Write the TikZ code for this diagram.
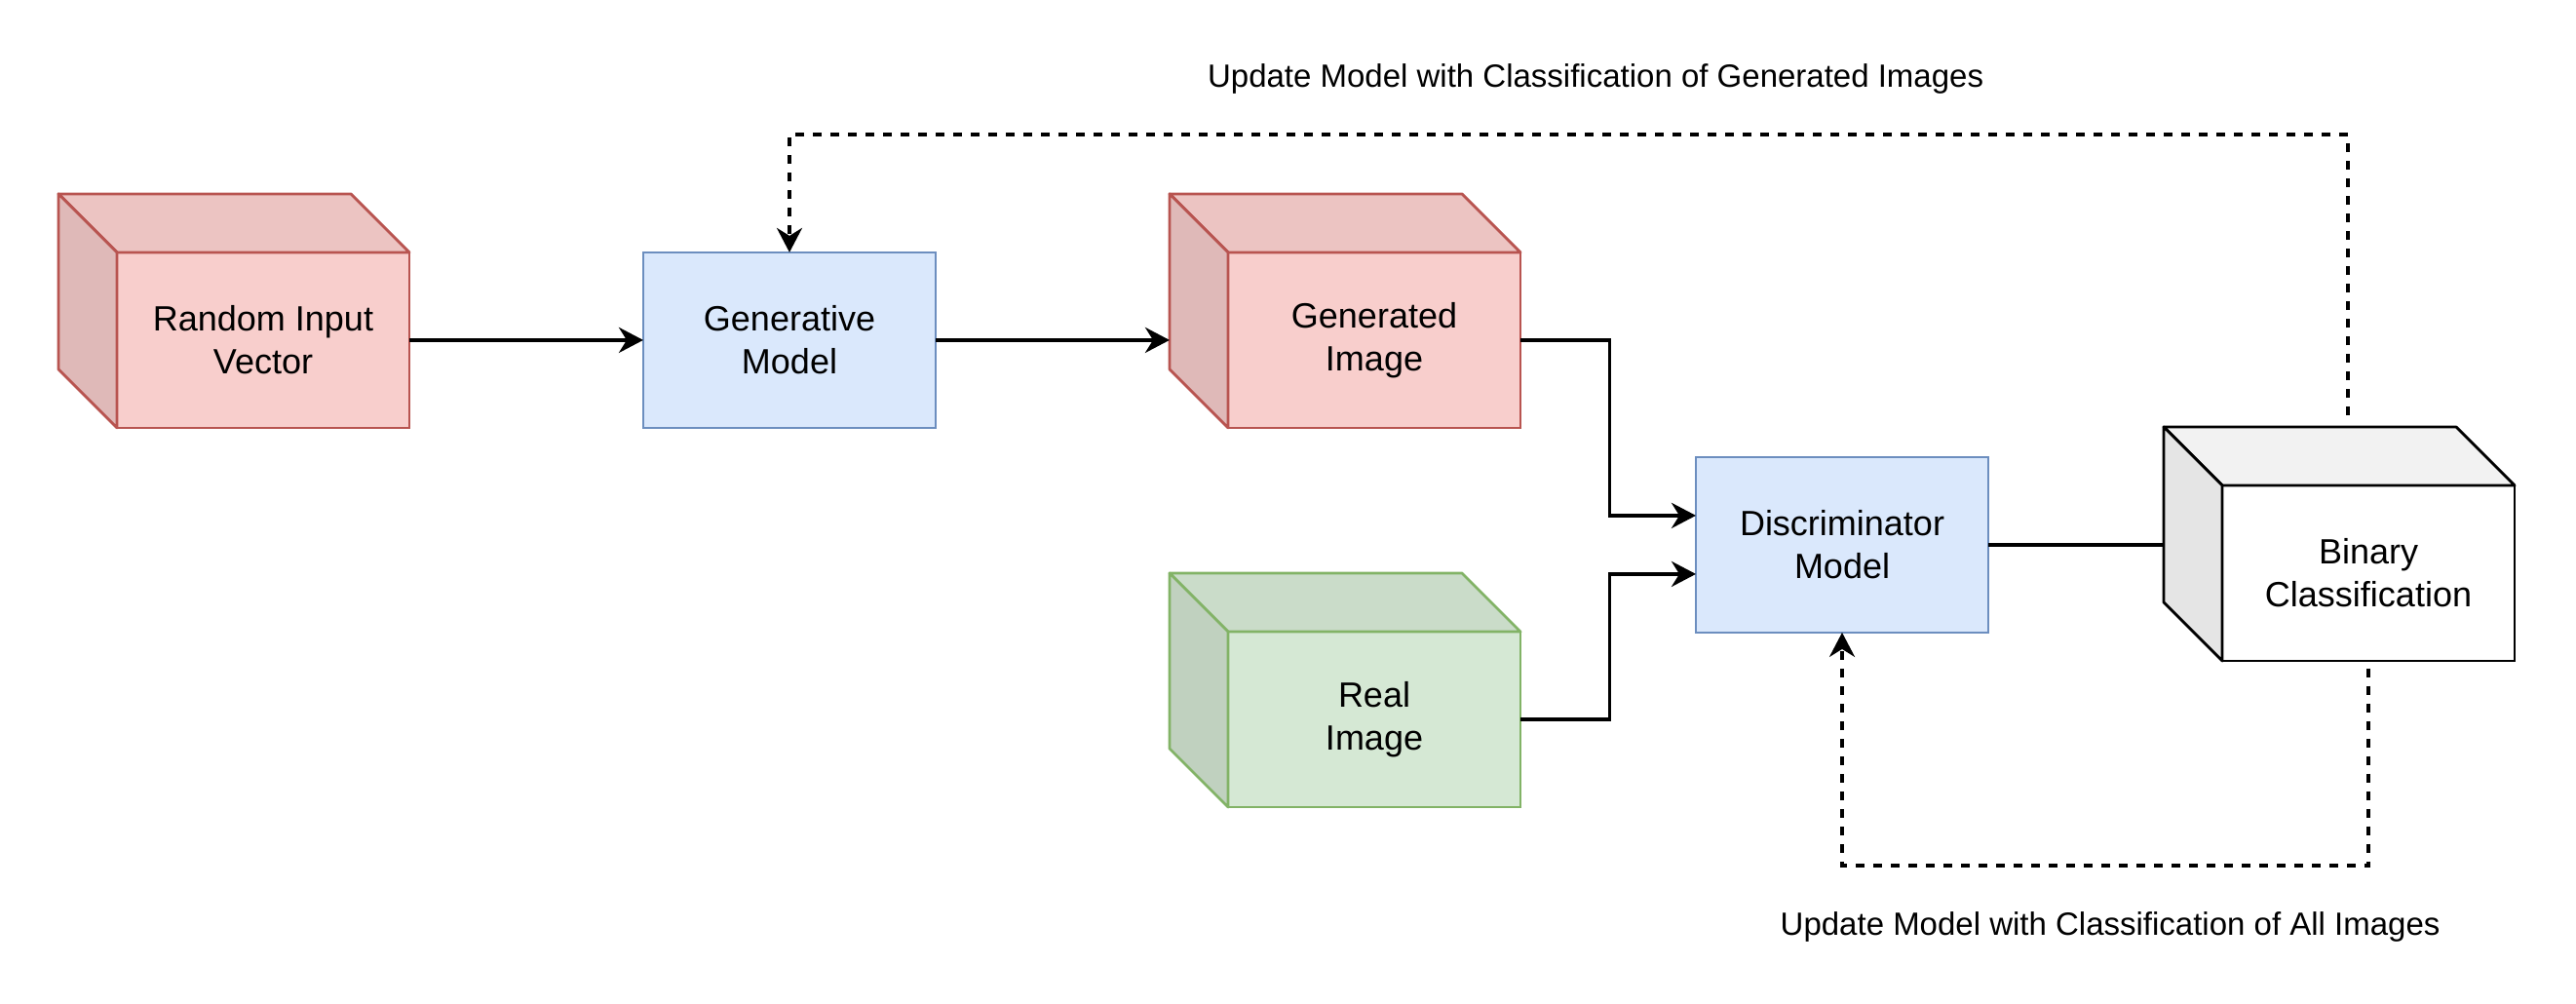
\documentclass[tikz,border=0pt]{standalone}
\usepackage{fontspec}
\setmainfont{Liberation Sans}
\usetikzlibrary{arrows.meta,calc}
\definecolor{redfill}{HTML}{F8CECC}
\definecolor{redline}{HTML}{B85450}
\definecolor{greenfill}{HTML}{D5E8D4}
\definecolor{greenline}{HTML}{82B366}
\definecolor{bluefill}{HTML}{DAE8FC}
\definecolor{blueline}{HTML}{6C8EBF}
\newcommand\cubefaces[3]{%
  \draw[line width=1.4pt,draw=#3,fill=#2!95!black,line join=round]
    (#1.north west) -- ++(-20,-20) -- ++(100,0) -- (#1.north east) -- cycle;
  \draw[line width=1.4pt,draw=#3,fill=#2!90!black,line join=round]
    (#1.north west) -- ++(-20,-20) -- ++(0,60) -- (#1.south west) -- cycle;
}
\begin{document}
\begin{tikzpicture}[x=1.5pt,y=-1.5pt,
  face/.style={minimum width=150pt,minimum height=90pt,inner sep=0pt,outer sep=0pt,
    line width=1.4pt,align=center,font=\fontsize{18}{22}\selectfont},
  redface/.style={face,draw=redline,fill=redfill},
  greenface/.style={face,draw=greenline,fill=greenfill},
  blueface/.style={face,draw=blueline,fill=bluefill},
  whiteface/.style={face,draw=black,fill=white},
  conn/.style={line width=1.9pt,-{Stealth[length=12.5pt,width=13pt,inset=4pt]}},
  plain/.style={line width=1.9pt},
  dconn/.style={line width=1.7pt,dash pattern=on 4.5pt off 4.5pt,-{Stealth[length=12.5pt,width=13pt,inset=4pt]}},
  lbl/.style={inner sep=0pt,font=\fontsize{16.5}{20}\selectfont}
]
\useasboundingbox (0,0) rectangle (881,343);

% cubes and boxes
\node[redface] (rand) at (90,116.3) {Random Input\\Vector};
\cubefaces{rand}{redfill}{redline}
\node[blueface] (gen) at (270,116.3) {Generative\\Model};
\node[redface] (genimg) at (470,116.3) {Generated\\Image};
\cubefaces{genimg}{redfill}{redline}
\node[greenface] (real) at (470,246) {Real\\Image};
\cubefaces{real}{greenfill}{greenline}
\node[blueface] (disc) at (630,186.3) {Discriminator\\Model};
\node[whiteface] (bin) at (810,196) {Binary\\Classification};
\cubefaces{bin}{white}{black}

% helper coordinates
\coordinate (d1) at ($(disc.north west)!0.3333!(disc.south west)$);
\coordinate (d2) at ($(disc.north west)!0.6667!(disc.south west)$);
\coordinate (topy) at (0,46);
\coordinate (boty) at (0,296);
\coordinate (tstart) at ($(bin.north)+(-7,-24)$);
\coordinate (bstart) at ($(bin.south)+(0,2.5)$);

% solid connectors
\draw[conn] (rand.east) -- (gen.west);
\draw[conn] (gen.east) -- ($(genimg.west)+(-20,0)$);
\draw[conn] (genimg.east) -| ($(d1)+(-29.5,0)$) -- (d1);
\draw[conn] (real.east) -| ($(d2)+(-29.5,0)$) -- (d2);
\draw[plain] (disc.east) -- ($(bin.west |- disc.east)+(-20,0)$);

% dashed feedback
\draw[dconn] (tstart) |- (gen.north |- topy) -- (gen.north);
\draw[dconn] (bstart) |- (disc.south |- boty) -- (disc.south);

% labels
\node[lbl] (lab1) at (545.7,27) {Update Model with Classification of Generated Images};
\node[lbl] (lab2) at (721.7,317) {Update Model with Classification of All Images};
\end{tikzpicture}
\end{document}
